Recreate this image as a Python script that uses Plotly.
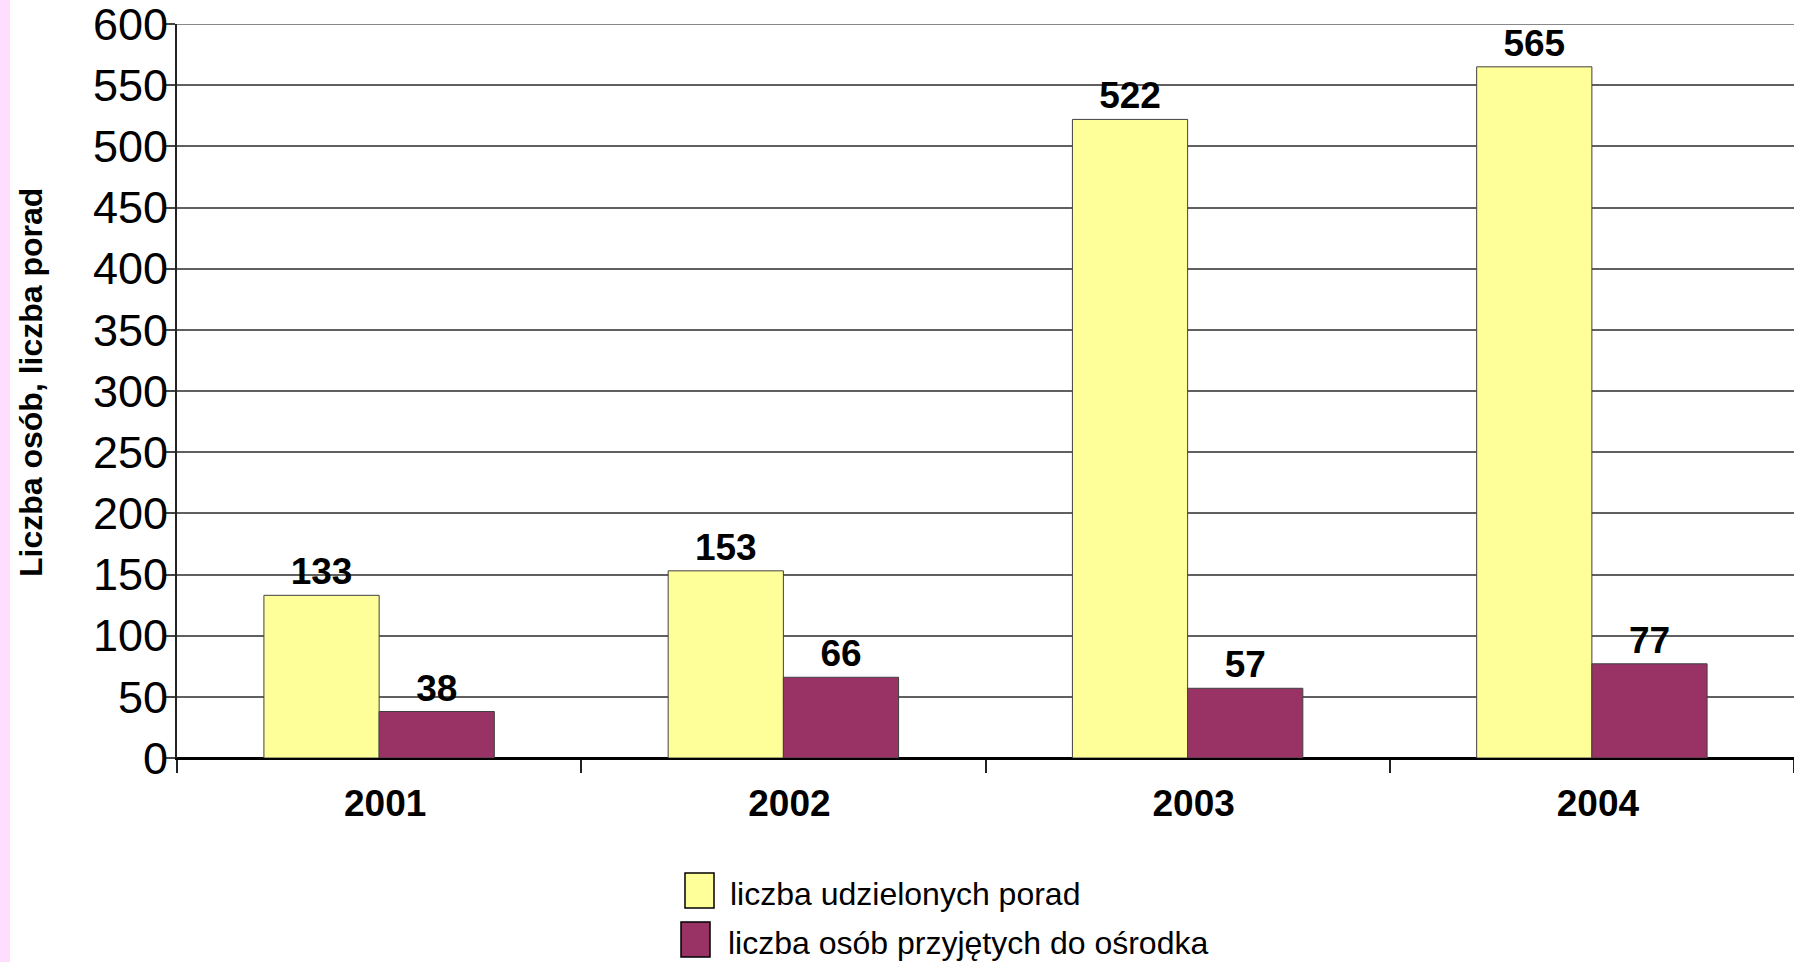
import plotly.graph_objects as go

years = ["2001", "2002", "2003", "2004"]
porady = [133, 153, 522, 565]
przyjeci = [38, 66, 57, 77]

series_names = ["liczba udzielonych porad", "liczba osób przyjętych do ośrodka"]
series_colors = ["#FFFF99", "#993366"]

y_max = 600

W, H = 1794, 962
ML, MR, MT, MB = 177, 0, 24, 204
PW, PH = W - ML - MR, H - MT - MB
FONT = "Liberation Sans, Arial, sans-serif"
GRID = "#606060"


def px_x(x):
    return (x - ML) / PW


def px_y(y):
    return (H - MB - y) / PH


fig = go.Figure()
for name, vals, col in zip(series_names, [porady, przyjeci], series_colors):
    fig.add_trace(go.Bar(
        x=years,
        y=vals,
        name=name,
        marker=dict(color=col, line=dict(color="#404040", width=1)),
        text=[str(v) for v in vals],
        textposition="outside",
        textfont=dict(family=FONT, size=37, color="black", weight="bold"),
        cliponaxis=False,
        showlegend=False,
    ))

# pink strip on the left edge of the page
fig.add_shape(type="rect", xref="paper", yref="paper",
              x0=px_x(0), x1=px_x(10), y0=px_y(H), y1=px_y(0),
              fillcolor="#FFDDFF", line_width=0, layer="below")

# top gridline (plotly drops it once the tick labels are pulled in)
fig.add_shape(type="line", xref="paper", yref="y", x0=0, x1=1, y0=y_max, y1=y_max,
              line=dict(color=GRID, width=1.5), layer="below")

# hand-drawn legend (bigger swatches than plotly's own)
legend_rows = [(685, 714, 873, 908, 728, 894), (681, 710, 922, 957, 726, 943)]
for (x0, x1, y0, y1, tx, ty), name, col in zip(legend_rows, series_names, series_colors):
    fig.add_shape(type="rect", xref="paper", yref="paper",
                  x0=px_x(x0), x1=px_x(x1), y0=px_y(y1), y1=px_y(y0),
                  fillcolor=col, line=dict(color="black", width=1.5))
    fig.add_annotation(text=name, xref="paper", yref="paper",
                       x=px_x(tx), y=px_y(ty), xanchor="left", yanchor="middle",
                       showarrow=False, font=dict(family=FONT, size=32, color="black"))

# y axis title
fig.add_annotation(text="Liczba osób, liczba porad", xref="paper", yref="paper",
                   x=px_x(31), y=px_y(383), xanchor="center", yanchor="middle",
                   textangle=-90, showarrow=False,
                   font=dict(family=FONT, size=32, color="black", weight="bold"))

fig.update_layout(
    width=W, height=H,
    margin=dict(l=ML, r=MR, t=MT, b=MB),
    plot_bgcolor="white", paper_bgcolor="white",
    barmode="group", bargap=0.43, bargroupgap=0,
    font=dict(family=FONT, color="black"),
    xaxis=dict(
        range=[-0.5, 3.5],
        tickson="boundaries", ticks="outside", ticklen=13, tickwidth=1.5, tickcolor="#222",
        tickfont=dict(size=37, weight="bold"),
        ticklabelstandoff=12, ticklabelshift=6,
        showline=True, linecolor="black", linewidth=2,
        showgrid=False,
    ),
    yaxis=dict(
        range=[0, y_max], dtick=50,
        ticks="outside", ticklen=11, tickwidth=1.5, tickcolor="#444",
        tickfont=dict(size=45),
        ticklabelstandoff=-13, ticklabeloverflow="allow",
        showline=True, linecolor="#222", linewidth=2,
        gridcolor=GRID, gridwidth=1.5,
        zeroline=True, zerolinecolor="black", zerolinewidth=2,
    ),
)

fig.write_html(
    "out.html",
    config={"displayModeBar": False},
    post_script="document.body.style.margin='0';document.body.style.overflow='hidden';",
)
